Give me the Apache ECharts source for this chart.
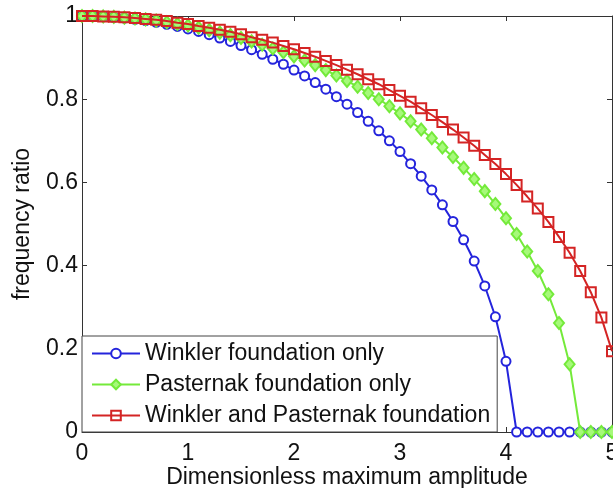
<!DOCTYPE html>
<html>
<head>
<meta charset="utf-8">
<script src="https://cdn.jsdelivr.net/npm/echarts@6/dist/echarts.min.js"></script>
<style>
html,body{margin:0;padding:0;background:#fff;}
#chart{width:613px;height:488px;}
</style>
</head>
<body>
<div id="chart"></div>
<script>
var amplitude = [0,0.1,0.2,0.3,0.4,0.5,0.6,0.7,0.8,0.9,1.0,1.1,1.2,1.3,1.4,1.5,1.6,1.7,1.8,1.9,2.0,2.1,2.2,2.3,2.4,2.5,2.6,2.7,2.8,2.9,3.0,3.1,3.2,3.3,3.4,3.5,3.6,3.7,3.8,3.9,4.0,4.1,4.2,4.3,4.4,4.5,4.6,4.7,4.8,4.9,5.0];

var winklerOnly = [1.000,1.000,0.999,0.997,0.995,0.992,0.989,0.985,0.980,0.975,0.969,0.963,0.955,0.947,0.939,0.929,0.919,0.908,0.896,0.884,0.870,0.856,0.840,0.824,0.806,0.788,0.768,0.747,0.724,0.700,0.674,0.645,0.615,0.582,0.546,0.506,0.462,0.411,0.351,0.277,0.170,0,0,0,0,0,0,0,0,0,0];

var pasternakOnly = [1.000,1.000,0.999,0.998,0.996,0.994,0.992,0.989,0.985,0.981,0.977,0.972,0.966,0.960,0.954,0.947,0.939,0.931,0.922,0.913,0.903,0.893,0.882,0.870,0.857,0.844,0.830,0.815,0.800,0.783,0.766,0.747,0.727,0.706,0.684,0.661,0.635,0.608,0.579,0.548,0.514,0.476,0.434,0.387,0.331,0.262,0.163,0,0,0,0];

var winklerPasternak = [1.000,1.000,0.999,0.998,0.997,0.995,0.993,0.991,0.988,0.984,0.981,0.976,0.972,0.967,0.962,0.956,0.949,0.943,0.936,0.928,0.920,0.911,0.902,0.892,0.882,0.871,0.860,0.848,0.836,0.822,0.808,0.794,0.778,0.762,0.745,0.727,0.708,0.688,0.666,0.644,0.620,0.594,0.566,0.537,0.505,0.469,0.431,0.387,0.336,0.275,0.194];

var seriesNames = ['Winkler foundation only','Pasternak foundation only','Winkler and Pasternak foundation'];
var xTicks = [0,1,2,3,4,5];
var yTicks = [0,0.2,0.4,0.6,0.8,1];

function pairs(xs, ys){ return xs.map(function(x,i){ return [x, ys[i]]; }); }

var font = "'Liberation Sans', Arial, Helvetica, sans-serif";
var axisCol = '#333';
var fs = 23;

var chart = echarts.init(document.getElementById('chart'), null, {renderer:'canvas'});
chart.setOption({
  animation: false,
  backgroundColor: '#fff',
  textStyle: {fontFamily: font},
  grid: {left: 82, right: 1, top: 16, bottom: 56, containLabel: false, outerBoundsMode: 'none'},
  legend: {
    orient: 'vertical',
    left: 82, top: 336,
    data: seriesNames,
    itemWidth: 48, itemHeight: 12,
    itemGap: 8,
    padding: [6, 7, 5, 9],
    backgroundColor: '#fff',
    borderColor: '#444', borderWidth: 1,
    textStyle: {fontSize: fs, color: '#111', fontFamily: font, lineHeight: 23}
  },
  xAxis: [{
    type: 'value', min: 0, max: 5, interval: 1,
    name: 'Dimensionless maximum amplitude', nameLocation: 'middle', nameGap: 34,
    nameMoveOverlap: false,
    nameTextStyle: {fontSize: fs, color: '#111', fontFamily: font},
    axisLine: {show: true, onZero: false, lineStyle: {color: axisCol, width: 1}},
    axisTick: {show: true, inside: true, length: 5, lineStyle: {color: axisCol}},
    axisLabel: {fontSize: fs, color: '#111', margin: 10, fontFamily: font,
      formatter: function(v){ return xTicks.indexOf(v) >= 0 ? String(v) : ''; }},
    splitLine: {show: false}
  },{
    type: 'value', min: 0, max: 5, interval: 1, position: 'top',
    axisLine: {show: true, onZero: false, lineStyle: {color: axisCol, width: 1}},
    axisTick: {show: true, inside: true, length: 5, lineStyle: {color: axisCol}},
    axisLabel: {show: false}, splitLine: {show: false}
  }],
  yAxis: [{
    type: 'value', min: 0, max: 1, interval: 0.2,
    name: 'frequency ratio', nameLocation: 'middle', nameGap: 48,
    nameMoveOverlap: false,
    nameTextStyle: {fontSize: fs, color: '#111', fontFamily: font},
    axisLine: {show: true, onZero: false, lineStyle: {color: axisCol, width: 1}},
    axisTick: {show: true, inside: true, length: 5, lineStyle: {color: axisCol}},
    axisLabel: {fontSize: fs, color: '#111', margin: 4, fontFamily: font,
      formatter: function(v){
        var r = Math.round(v*10)/10;
        if (r === 0) return '0';
        if (r === 1) return '1';
        return r.toFixed(1);
      }},
    splitLine: {show: false}
  },{
    type: 'value', min: 0, max: 1, interval: 0.2, position: 'right',
    axisLine: {show: true, onZero: false, lineStyle: {color: axisCol, width: 1}},
    axisTick: {show: true, inside: true, length: 5, lineStyle: {color: axisCol}},
    axisLabel: {show: false}, splitLine: {show: false}
  }],
  series: [{
    name: seriesNames[0], type: 'line', data: pairs(amplitude, winklerOnly),
    symbol: 'circle', symbolSize: 9,
    itemStyle: {color: '#fff', borderColor: '#2424dc', borderWidth: 2},
    lineStyle: {color: '#2424dc', width: 2},
    z: 2
  },{
    name: seriesNames[1], type: 'line', data: pairs(amplitude, pasternakOnly),
    symbol: 'diamond', symbolSize: [10, 12],
    itemStyle: {color: '#a6f97a', borderColor: '#74ea3a', borderWidth: 2},
    lineStyle: {color: '#74ea3a', width: 2},
    z: 3
  },{
    name: seriesNames[2], type: 'line', data: pairs(amplitude, winklerPasternak),
    symbol: 'rect', symbolSize: 10,
    itemStyle: {color: 'rgba(255,255,255,0)', borderColor: '#d42424', borderWidth: 2},
    lineStyle: {color: '#d42424', width: 2},
    z: 4
  }]
});
</script>
</body>
</html>
